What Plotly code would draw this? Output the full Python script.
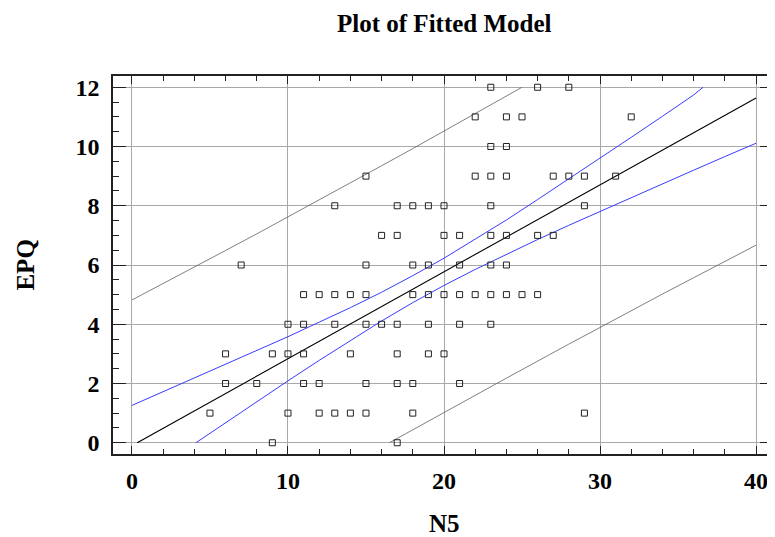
import plotly.graph_objects as go

# Observed points (N5, EPQ)
n5 = [23, 26, 28,
      22, 24, 25, 32,
      23, 24,
      15, 22, 23, 24, 27, 28, 29, 31,
      13, 17, 18, 19, 20, 23, 29,
      16, 17, 20, 21, 23, 24, 26, 27,
      7, 15, 18, 19, 21, 23, 24,
      11, 12, 13, 14, 15, 18, 19, 20, 21, 22, 23, 24, 25, 26,
      10, 11, 13, 15, 16, 17, 19, 21, 23,
      6, 9, 10, 11, 14, 17, 19, 20,
      6, 8, 11, 12, 15, 17, 18, 21,
      5, 10, 12, 13, 14, 15, 18, 29,
      9, 17]
epq = [12, 12, 12,
       11, 11, 11, 11,
       10, 10,
       9, 9, 9, 9, 9, 9, 9, 9,
       8, 8, 8, 8, 8, 8, 8,
       7, 7, 7, 7, 7, 7, 7, 7,
       6, 6, 6, 6, 6, 6, 6,
       5, 5, 5, 5, 5, 5, 5, 5, 5, 5, 5, 5, 5, 5,
       4, 4, 4, 4, 4, 4, 4, 4, 4,
       3, 3, 3, 3, 3, 3, 3, 3,
       2, 2, 2, 2, 2, 2, 2, 2,
       1, 1, 1, 1, 1, 1, 1, 1,
       0, 0]

# Fitted line
fit_x = [0.34, 40]
fit_y = [0.0, 11.64]

# Confidence limits (blue)
conf_up_x = [0, 2, 4, 6, 8, 10, 12, 14, 16, 18, 20, 22, 24, 26, 28, 30, 32, 34, 36, 36.6]
conf_up_y = [1.26, 1.72, 2.18, 2.64, 3.11, 3.58, 4.07, 4.56, 5.08, 5.64, 6.23, 6.86, 7.52, 8.21,
             8.90, 9.60, 10.31, 11.02, 11.74, 12.0]
conf_lo_x = [4.1, 6, 8, 10, 12, 14, 16, 18, 20, 22, 24, 26, 28, 30, 32, 34, 36, 38, 40]
conf_lo_y = [0.0, 0.68, 1.39, 2.09, 2.78, 3.45, 4.11, 4.73, 5.31, 5.85, 6.36, 6.86, 7.34, 7.81,
             8.27, 8.74, 9.20, 9.66, 10.11]

# Prediction limits (gray)
pred_up_x = [0, 2, 4, 6, 8, 10, 12, 14, 16, 18, 20, 22, 24, 25.0]
pred_up_y = [4.82, 5.37, 5.93, 6.49, 7.05, 7.62, 8.19, 8.77, 9.35, 9.93, 10.52, 11.11, 11.71, 12.0]
pred_lo_x = [16.5, 18, 20, 22, 24, 26, 28, 30, 32, 34, 36, 38, 40]
pred_lo_y = [0.0, 0.43, 1.02, 1.60, 2.18, 2.76, 3.33, 3.89, 4.46, 5.02, 5.57, 6.12, 6.67]

x_ticks = [0, 10, 20, 30, 40]
y_ticks = [0, 2, 4, 6, 8, 10, 12]

SERIF = "Liberation Serif, Times New Roman, serif"

fig = go.Figure()
for xs, ys, col, w in [(pred_up_x, pred_up_y, "#606060", 0.8),
                       (pred_lo_x, pred_lo_y, "#606060", 0.8),
                       (conf_up_x, conf_up_y, "#3a3aff", 1),
                       (conf_lo_x, conf_lo_y, "#3a3aff", 1),
                       (fit_x, fit_y, "#000000", 1.1)]:
    fig.add_trace(go.Scatter(x=xs, y=ys, mode="lines",
                             line=dict(color=col, width=w), hoverinfo="skip"))

fig.add_trace(go.Scatter(x=n5, y=epq, mode="markers",
                         marker=dict(symbol="square-open", size=6,
                                     color="#222222", line=dict(width=1, color="#222222"))))

axis_common = dict(
    showline=True, linecolor="#222222", linewidth=1.5, mirror="ticks",
    ticks="inside", tickcolor="#222222", tickwidth=1.2,
    showgrid=True, gridcolor="#a8a8a8", gridwidth=1, zeroline=False,
    tickfont=dict(family=SERIF, size=24, color="#000000", weight="bold"),
)

# The page body has an 8px margin, so the figure is sized/placed to compensate.
fig.update_layout(
    width=767, height=529,
    margin=dict(l=105, r=0, t=68, b=83),
    paper_bgcolor="white", plot_bgcolor="white",
    showlegend=False,
    xaxis=dict(range=[-1.214, 41.086], tickvals=x_ticks, ticklen=8,
               minor=dict(dtick=2, ticklen=5, ticks="inside", tickcolor="#222222", showgrid=False),
               ticklabelstandoff=4, **axis_common),
    yaxis=dict(range=[-0.38, 12.38], tickvals=y_ticks, ticklen=13,
               minor=dict(dtick=0.5, ticklen=6, ticks="inside", tickcolor="#222222", showgrid=False),
               ticklabelstandoff=7, **axis_common),
    annotations=[
        dict(text="Plot of Fitted Model", xref="paper", yref="paper", x=0.503, y=1.138,
             xanchor="center", yanchor="middle", showarrow=False,
             font=dict(family=SERIF, size=25, color="#000000", weight="bold")),
        dict(text="N5", xref="paper", yref="paper", x=0.503, y=-0.185,
             xanchor="center", yanchor="middle", showarrow=False,
             font=dict(family=SERIF, size=25, color="#000000", weight="bold")),
        dict(text="EPQ", xref="paper", yref="paper", x=-0.134, y=0.5, textangle=-90,
             xanchor="center", yanchor="middle", showarrow=False,
             font=dict(family=SERIF, size=25, color="#000000", weight="bold")),
    ],
)

fig.write_html("out.html")
